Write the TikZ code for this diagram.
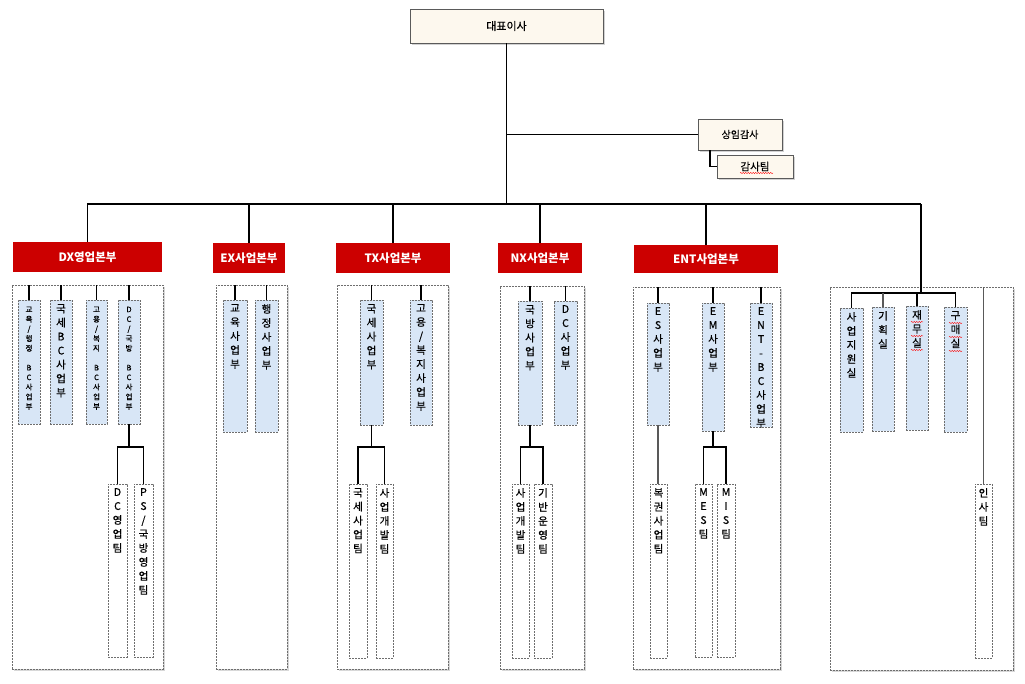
\documentclass[tikz,border=0pt]{standalone}
\usepackage{fontspec}
\setmainfont{Noto Sans CJK KR}[UprightFeatures={FakeBold=0.6}]
\usetikzlibrary{shadows,decorations.pathmorphing,calc}
\definecolor{redhd}{RGB}{204,0,0}
\definecolor{cream}{RGB}{253,248,238}
\definecolor{bluebx}{RGB}{216,230,246}
\definecolor{bordergray}{RGB}{90,90,90}
\definecolor{dashgray}{RGB}{110,110,110}
\tikzset{
 topbox/.style={draw=bordergray, fill=cream, line width=0.8pt, inner sep=0pt, outer sep=0pt,
   drop shadow={shadow xshift=2pt, shadow yshift=-2pt, opacity=0.35, fill=gray}},
 hdr/.style={fill=redhd, inner sep=0pt, outer sep=0pt, text=white, font=\fontsize{11.5}{13}\selectfont\bfseries},
 cont/.style={draw=dashgray, dash pattern=on 2pt off 1pt, line width=0.6pt, fill=white, inner sep=0pt, outer sep=0pt,
   drop shadow={shadow xshift=1.5pt, shadow yshift=-1.5pt, opacity=0.3, fill=gray}},
 unit/.style={draw=dashgray, dash pattern=on 2pt off 1pt, line width=0.6pt, fill=bluebx, inner sep=0pt, outer sep=0pt},
 team/.style={draw=dashgray, dash pattern=on 2pt off 1pt, line width=0.6pt, fill=white, inner sep=0pt, outer sep=0pt},
 vt/.style={anchor=north, align=center, inner sep=0pt, font=\fontsize{10.5}{14}\selectfont, execute at begin node=\vphantom{국}},
 vts/.style={anchor=north, align=center, inner sep=0pt, font=\fontsize{7.5}{9.7}\selectfont, execute at begin node=\vphantom{국}},
 mainline/.style={line width=1.7pt},
 conn/.style={line width=1.2pt},
 grayconn/.style={line width=1.2pt, draw=gray!70!black},
 wavy/.style={draw=red, line width=0.4pt, decorate, decoration={snake, amplitude=0.6pt, segment length=2.5pt}}
}
\newcommand\bx[7]{\node[#6, minimum width={(#4-#2)*1pt}, minimum height={(#5-#3)*1pt}] (#1) at ({(#2+#4)/2},{(#3+#5)/2}) {#7};}
\newcommand\vtext[3]{\node[#2] (#1-t) at ([yshift=-4pt]#1.north) {#3};}
\newcommand\vtexts[2]{\node[vts] (#1-t) at ([yshift=-6.5pt]#1.north) {#2};}
\begin{document}
\begin{tikzpicture}[x=1pt,y=-1pt]
\fill[white] (0,0) rectangle (1025,683);
\useasboundingbox (0,0) rectangle (1025,683);

% top
\bx{ceo}{410}{9}{603}{43}{topbox}{\fontsize{11}{12}\selectfont 대표이사}
\bx{aud}{698}{119}{782}{150}{topbox}{\fontsize{10}{12}\selectfont 상임감사}
\bx{audt}{717}{155}{793}{178}{topbox}{\fontsize{10.5}{12}\selectfont 감사팀}
\draw[wavy] (740,173) -- (773,173);

% containers
\bx{dxc}{12}{285}{163}{669}{cont}{}
\bx{exc}{216}{285}{287}{669}{cont}{}
\bx{txc}{337}{285}{448}{669}{cont}{}
\bx{nxc}{500}{286}{584}{669}{cont}{}
\bx{entc}{633}{287}{780}{669}{cont}{}
\bx{supc}{830}{287}{1013}{670}{cont}{}

% headers
\bx{dxh}{13}{242}{162}{272}{hdr}{DX영업본부}
\bx{exh}{213}{243}{285}{273}{hdr}{EX사업본부}
\bx{txh}{336}{243}{450}{273}{hdr}{TX사업본부}
\bx{nxh}{498}{243}{582}{273}{hdr}{NX사업본부}
\bx{enth}{634}{245}{778}{273}{hdr}{ENT사업본부}

% DX
\bx{d1}{18}{300}{40}{424}{unit}{}
\bx{d2}{50}{300}{72}{424}{unit}{}
\bx{d3}{86}{300}{107}{424}{unit}{}
\bx{d4}{118}{300}{140}{424}{unit}{}
\bx{dt1}{108}{484}{127}{657}{team}{}
\bx{dt2}{134}{484}{153}{657}{team}{}
\vtexts{d1}{교\\육\\/\\행\\정\\[9.7pt]B\\C\\사\\업\\부}
\vtext{d2}{vt}{국\\세\\B\\C\\사\\업\\부}
\vtexts{d3}{고\\용\\/\\복\\지\\[9.7pt]B\\C\\사\\업\\부}
\vtexts{d4}{D\\C\\/\\국\\방\\[9.7pt]B\\C\\사\\업\\부}
\vtext{dt1}{vt}{D\\C\\영\\업\\팀}
\vtext{dt2}{vt}{P\\S\\/\\국\\방\\영\\업\\팀}

% EX
\bx{e1}{223}{300}{247}{432}{unit}{}
\bx{e2}{255}{300}{278}{432}{unit}{}
\vtext{e1}{vt}{교\\육\\사\\업\\부}
\vtext{e2}{vt}{행\\정\\사\\업\\부}

% TX
\bx{t1}{360}{300}{383}{425}{unit}{}
\bx{t2}{410}{300}{432}{425}{unit}{}
\bx{tt1}{349}{484}{367}{658}{team}{}
\bx{tt2}{376}{484}{393}{658}{team}{}
\vtext{t1}{vt}{국\\세\\사\\업\\부}
\vtext{t2}{vt}{고\\용\\/\\복\\지\\사\\업\\부}
\vtext{tt1}{vt}{국\\세\\사\\업\\팀}
\vtext{tt2}{vt}{사\\업\\개\\발\\팀}

% NX
\bx{n1}{518}{301}{542}{425}{unit}{}
\bx{n2}{554}{301}{577}{425}{unit}{}
\bx{nt1}{512}{484}{529}{658}{team}{}
\bx{nt2}{534}{484}{552}{658}{team}{}
\vtext{n1}{vt}{국\\방\\사\\업\\부}
\vtext{n2}{vt}{D\\C\\사\\업\\부}
\vtext{nt1}{vt}{사\\업\\개\\발\\팀}
\vtext{nt2}{vt}{기\\반\\운\\영\\팀}

% ENT
\bx{en1}{647}{303}{669}{425}{unit}{}
\bx{en2}{702}{303}{724}{431}{unit}{}
\bx{en3}{750}{303}{772}{427}{unit}{}
\bx{ent1}{650}{484}{667}{658}{team}{}
\bx{mt1}{695}{484}{712}{657}{team}{}
\bx{mt2}{717}{484}{735}{657}{team}{}
\vtext{en1}{vt}{E\\S\\사\\업\\부}
\vtext{en2}{vt}{E\\M\\사\\업\\부}
\vtext{en3}{vt}{E\\N\\T\\-\\B\\C\\사\\업\\부}
\vtext{ent1}{vt}{복\\권\\사\\업\\팀}
\vtext{mt1}{vt}{M\\E\\S\\팀}
\vtext{mt2}{vt}{M\\I\\S\\팀}

% Support
\bx{s1}{840}{308}{863}{432}{unit}{}
\bx{s2}{872}{307}{894}{431}{unit}{}
\bx{s3}{906}{306}{928}{430}{unit}{}
\bx{s4}{944}{307}{967}{432}{unit}{}
\bx{hr}{975}{484}{992}{658}{team}{}
\vtext{s1}{vt}{사\\업\\지\\원\\실}
\vtext{s2}{vt}{기\\획\\실}
\vtext{s3}{vt}{재\\무\\실}
\vtext{s4}{vt}{구\\매\\실}
\vtext{hr}{vt}{인\\사\\팀}
\foreach \yy in {322,336,350} {\draw[wavy] (911,\yy) -- (923,\yy);}
\foreach \yy in {323,337,351} {\draw[wavy] (949,\yy) -- (962,\yy);}

% main connectors
\coordinate (busL) at (87,204);
\coordinate (busR) at (921,204);
\coordinate (sb) at (921,293);
\draw[mainline] (ceo.south) -- (ceo.south |- busL);
\draw[mainline] (aud.west) -- (aud.west -| ceo.south);
\draw[line width=1.3pt] ([xshift=12pt]aud.south west) |- (audt.west);
\draw[mainline] (busL) -- (busR);
\foreach \h in {dxh,exh,txh,nxh,enth} {\draw[mainline] (\h.north) -- (\h.north |- busL);}
\draw[mainline] (busR) -- (sb);

% unit connectors from container tops
\foreach \u/\c in {d1/dxc,d2/dxc,d3/dxc,d4/dxc,e1/exc,e2/exc,t1/txc,t2/txc,n1/nxc,n2/nxc,en1/entc,en2/entc,en3/entc}
  {\draw[conn] (\u.north) -- (\u.north |- \c.north);}

% team junctions
\coordinate (dxj) at (d4.south |- 0,447);
\draw[conn] (d4.south) -- (dxj);
\draw[conn] (dt1.north) |- (dxj) -| (dt2.north);
\coordinate (txj) at (t1.south |- 0,447);
\draw[conn] (t1.south) -- (txj);
\draw[conn] (tt1.north) |- (txj) -| (tt2.north);
\coordinate (nxj) at (n1.south |- 0,447);
\draw[conn] (n1.south) -- (nxj);
\draw[conn] (nt1.north) |- (nxj) -| (nt2.north);
\coordinate (emj) at (en2.south |- 0,447);
\draw[conn] (en2.south) -- (emj);
\draw[conn] (mt1.north) |- (emj) -| (mt2.north);
\draw[grayconn] (en1.south) -- (en1.south |- ent1.north);

% support connectors
\draw[conn] (s1.north) -- (s1.north |- sb) -- (s4.north |- sb) -- (s4.north);
\draw[grayconn] (s2.north) -- (s2.north |- sb);
\draw[conn] (s3.north) -- (s3.north |- sb);
\draw[grayconn] (hr.north) -- (hr.north |- supc.north);
\end{tikzpicture}
\end{document}
